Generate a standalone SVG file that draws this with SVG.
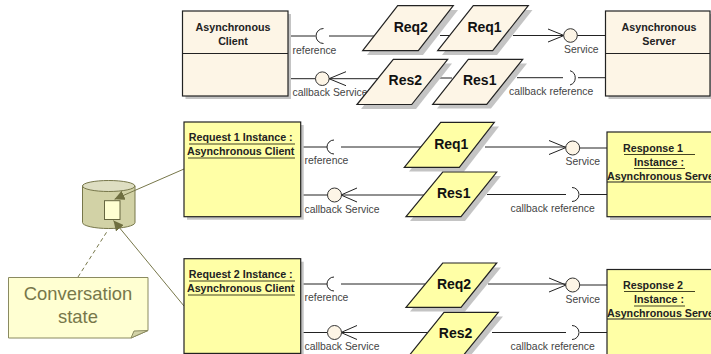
<svg xmlns="http://www.w3.org/2000/svg" width="711" height="354" viewBox="0 0 711 354">
<style>
text{font-family:"Liberation Sans",Arial,sans-serif}
.box{stroke:#222;stroke-width:1.2}
.beige{fill:#fdf5e6}
.yel{fill:#ffffa6}
.sh{fill:#c4c4c4}
.t{font-size:10.7px;font-weight:bold;fill:#222;text-anchor:middle}
.m{font-size:14px;font-weight:bold;fill:#111;text-anchor:middle}
.l{font-size:10.4px;fill:#444}
.c{fill:none;stroke:#222;stroke-width:1}
.u{stroke:#444422;stroke-width:1.2}
.k{fill:#fdf5e6;stroke:#333;stroke-width:1}
.o{stroke:#77774a;stroke-width:1;fill:none}
</style>
<defs>
<marker id="fa" viewBox="0 0 10 10" refX="10" refY="5" markerWidth="10" markerHeight="10" markerUnits="userSpaceOnUse" orient="auto"><path d="M0 0L10 5L0 10z" fill="#6f6f40"/></marker>
</defs>
<g id="store"><path d="M82.500 186V222.500A26.200 6 0 0 0 135 222.500V186z" fill="#d2d2a6" stroke="#77774a"/><ellipse cx="108.700" cy="186" rx="26.200" ry="5.500" fill="#dedec2" stroke="#77774a"/><rect x="104.500" y="200.700" width="15.500" height="18.800" fill="#ffffd2" stroke="#666640"/></g>
<g id="note"><path d="M8.500 277.500H148V330.500L131 338H8.500z" fill="#ffffd2" stroke="#8a8a60"/><path d="M131 338L134 331L148 330.500z" fill="#d2d2a6" stroke="#8a8a60"/><text x="78" y="300" font-size="18.400px" fill="#77774a" text-anchor="middle">Conversation</text><text x="78" y="323" font-size="18.400px" fill="#77774a" text-anchor="middle">state</text></g>
<g id="connectors">
<path class="c" d="M288 36H315.500M329 36H380M440 35.500H460M513 35.500H564M548 29L564 35.500L548 42M577 35.500H606"/>
<path class="c" d="M288 78.700H315.500M329 78.700L346 71.700M329 78.700L346 85.700M329 78.700H380M440 78H452M517 77.700H563M578 77.700H606"/>
<path class="c" d="M300.700 147H327M341 147H425M485 147H566M549 140.500L566 147.500L549 154.500M580 148H607"/>
<path class="c" d="M300.700 195H327M341 195H425M341 195L357 188M341 195L357 202M487 194.500H566M580 194.500H607"/>
<path class="c" d="M300.700 284H327M341 284H425M488 284H566M549 278L566 285L549 292M580 285H607"/>
<path class="c" d="M300.700 332.500H327M341 332.500H430M341 332.500L357 325.500M341 332.500L357 339.500M492 332.500H566M580 332.500H607"/>
<path class="o" d="M184 169L114.500 199.300" marker-end="url(#fa)"/>
<path class="o" d="M184 306L113.500 220.500" marker-end="url(#fa)"/>
<path class="o" stroke-dasharray="4 3" d="M78 277L108 230"/>
</g>
<g id="ifaces-top"><path class="c" d="M323.500 28.500A7.500 7.500 0 0 0 323.500 43.500"/><text class="l" x="292.500" y="54">reference</text><circle class="k" cx="322.300" cy="78.700" r="6.800"/><text class="l" x="292.500" y="96">callback Service</text><circle class="k" cx="570.500" cy="35.500" r="6.800"/><text class="l" x="564" y="53">Service</text><path class="c" d="M570 70.700A7.500 7.500 0 0 1 570 85"/><text class="l" x="509" y="95">callback reference</text></g>
<g id="client-top"><rect class="sh" x="185.500" y="14" width="105.500" height="85"/><rect class="box beige" x="182.500" y="11" width="105.500" height="85"/><path class="box" d="M182.500 53.500H288"/><text class="t" x="233" y="31">Asynchronous</text><text class="t" x="233" y="44.500">Client</text></g>
<g id="server-top"><rect class="sh" x="608.500" y="14" width="105" height="85"/><rect class="box beige" x="605.500" y="11" width="104.500" height="85"/><path class="box" d="M605.500 53.500H710"/><text class="t" x="659" y="31">Asynchronous</text><text class="t" x="659" y="44.500">Server</text></g>
<g id="req2-top"><path class="sh" d="M367 55L402 10H458L423 55z"/><path class="box beige" d="M362.700 50.700L397.700 5.700H453.300L418.300 50.700z"/><text class="m" x="410.800" y="32">Req2</text></g>
<g id="req1-top"><path class="sh" d="M442 55L477.500 10H532.500L497 55z"/><path class="box beige" d="M437.700 50.700L473.300 5.700H528.300L492.700 50.700z"/><text class="m" x="484.500" y="32">Req1</text></g>
<g id="res2-top"><path class="sh" d="M361 109L397.500 63.500H452L416 109z"/><path class="box beige" d="M357 104.500L393.300 59.300H447.700L411.700 104.500z"/><text class="m" x="405.300" y="84.500">Res2</text></g>
<g id="res1-top"><path class="sh" d="M437 108.500L472.500 63.500H527L491 108.500z"/><path class="box beige" d="M432.700 104.300L468.300 59.300H522.700L486.700 104.300z"/><text class="m" x="479.700" y="84.500">Res1</text></g>
<g id="client-1"><rect class="sh" x="187" y="125" width="116.700" height="94.700"/><rect class="box yel" x="184" y="122" width="116.700" height="94.700"/><text class="t" x="240.700" y="141">Request 1 Instance :</text><text class="t" x="240.700" y="155">Asynchronous Client</text><path class="u" d="M189 144H295M188 158H295"/></g>
<g id="server-1"><rect class="sh" x="610" y="135" width="110" height="85"/><rect class="box yel" x="607" y="132" width="110" height="84.700"/><path class="box" d="M607 182H717"/><text class="t" x="653" y="152">Response 1</text><text class="t" x="659" y="165.500">Instance :</text><text class="t" x="607" y="179.500" style="text-anchor:start">Asynchronous Server</text><path class="u" d="M624 154.500H695M634 168.500H685"/></g>
<g id="req1-1"><path class="sh" d="M409 171.500L445 126.500H499L464 171.500z"/><path class="box yel" d="M404.300 167.300L440.700 122.300H494.300L459.300 167.300z"/><text class="m" x="451.300" y="148.700">Req1</text></g>
<g id="res1-1"><path class="sh" d="M410 221L447 176H501L465 221z"/><path class="box yel" d="M406 216.700L442.700 172H496.700L461 216.700z"/><text class="m" x="453.700" y="198">Res1</text></g>
<g id="ifaces-1"><path class="c" d="M334 140A7 7 0 0 0 334 154"/><text class="l" x="304.500" y="164">reference</text><circle class="k" cx="334.500" cy="195" r="7"/><text class="l" x="304.500" y="213">callback Service</text><circle class="k" cx="572.700" cy="148" r="7"/><text class="l" x="565.500" y="165">Service</text><path class="c" d="M572 187.500A7 7 0 0 1 572 201.500"/><text class="l" x="510.500" y="212">callback reference</text></g>
<g id="client-2"><rect class="sh" x="187" y="261.700" width="116.700" height="94.700"/><rect class="box yel" x="184" y="258.700" width="116.700" height="94.700"/><text class="t" x="240.700" y="278">Request 2 Instance :</text><text class="t" x="240.700" y="292">Asynchronous Client</text><path class="u" d="M189 281H295M188 295H295"/></g>
<g id="server-2"><rect class="sh" x="610" y="272" width="110" height="85"/><rect class="box yel" x="607" y="269.500" width="110" height="90"/><path class="box" d="M607 319H717"/><text class="t" x="653" y="289">Response 2</text><text class="t" x="659" y="303">Instance :</text><text class="t" x="607" y="316.500" style="text-anchor:start">Asynchronous Server</text><path class="u" d="M624 291.500H695M634 306H685"/></g>
<g id="req2-2"><path class="sh" d="M410 311.500L447 267.500H501L465 311.500z"/><path class="box yel" d="M406 307.300L442.700 263H496.700L461 307.300z"/><text class="m" x="454" y="289">Req2</text></g>
<g id="res2-2"><path class="sh" d="M412 361L448 316.500H503L466 361z"/><path class="box yel" d="M408 357L444 312.300H498.300L462 357z"/><text class="m" x="455.500" y="338">Res2</text></g>
<g id="ifaces-2"><path class="c" d="M334 277A7 7 0 0 0 334 291"/><text class="l" x="304.500" y="301">reference</text><circle class="k" cx="334.500" cy="332.500" r="7"/><text class="l" x="304.500" y="350">callback Service</text><circle class="k" cx="572.700" cy="285" r="7"/><text class="l" x="565.500" y="303">Service</text><path class="c" d="M572 325.500A7 7 0 0 1 572 339.500"/><text class="l" x="510.500" y="349.500">callback reference</text></g>
</svg>
